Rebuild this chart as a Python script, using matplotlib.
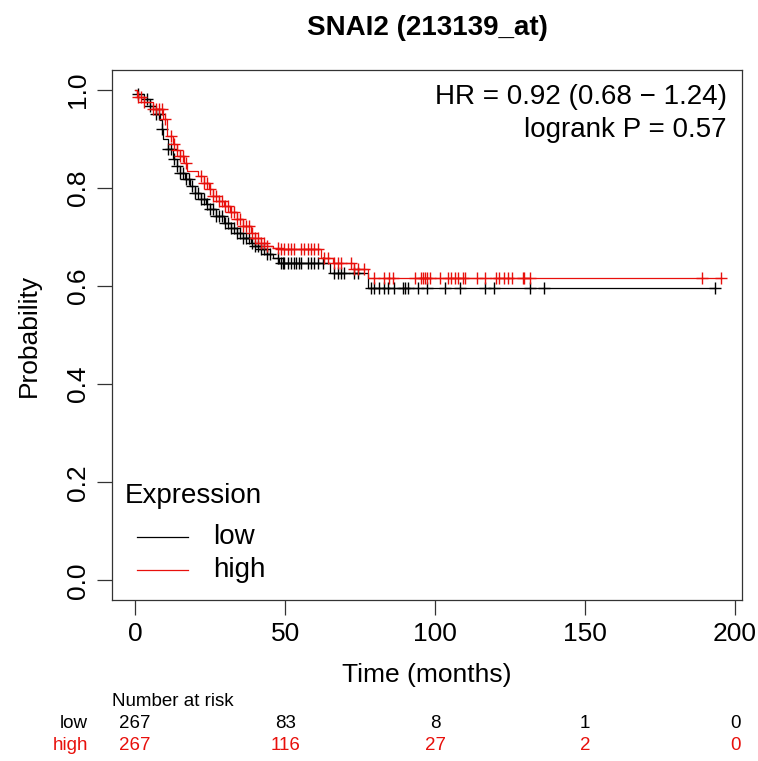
import numpy as np
import matplotlib
matplotlib.use("Agg")
import matplotlib.pyplot as plt
from matplotlib.lines import Line2D

plt.rcParams['font.family'] = ['Liberation Sans', 'DejaVu Sans']

# Kaplan-Meier steps (months, survival probability)
low_time = [0, 0.7, 3, 5, 7, 8.4, 9.0, 9.4, 11, 12.7, 14, 15, 16.5, 18.4, 20, 21.8,
            23.5, 25, 27, 29.5, 32, 34, 36, 38.5, 40, 42, 44, 46, 48, 65, 77.7]
low_surv = [1.0, 0.992, 0.98, 0.966, 0.95, 0.939, 0.92, 0.90, 0.88, 0.858, 0.845, 0.83,
            0.817, 0.803, 0.79, 0.777, 0.766, 0.757, 0.742, 0.728, 0.718, 0.708, 0.698,
            0.688, 0.682, 0.675, 0.665, 0.657, 0.647, 0.627, 0.596]
high_time = [0, 0.7, 3, 6, 9.4, 10.7, 12.7, 14, 15, 16.3, 17.4, 20.8, 23, 24.5, 26, 28,
             29.5, 31.5, 34, 36, 38.5, 40, 42, 44, 46, 48.6, 62, 66, 73, 77.7]
high_surv = [1.0, 0.985, 0.975, 0.96, 0.94, 0.905, 0.89, 0.877, 0.864, 0.85, 0.834, 0.824,
             0.81, 0.797, 0.783, 0.773, 0.763, 0.75, 0.736, 0.722, 0.708, 0.698, 0.688,
             0.682, 0.677, 0.675, 0.657, 0.647, 0.635, 0.617]

# censored observations (months)
low_censor = [1, 4, 5, 7, 8, 9, 11, 12, 13, 14, 15, 16, 17, 18, 19, 20, 21, 22, 23, 24,
              25, 26, 27, 28, 29, 30, 31, 32, 33, 34, 35, 36, 37, 38, 39, 40, 41, 42, 43,
              44, 45, 47.6, 48.6, 49.2, 49.6, 50.9, 51.9, 52.9, 53.6, 54.6, 55.3, 57.6,
              58.6, 59.6, 61, 62.6, 66.3, 67.7, 68.7, 69.7, 73, 74.4, 78.7, 79.7, 81.4,
              83, 84.4, 86.4, 89.3, 89.8, 91, 94.4, 97.2, 103.2, 108.2, 116.6, 119.6,
              131.7, 136.3, 193.3]
high_censor = [1, 2, 3, 6, 7, 8, 9, 10, 12, 13, 14, 15, 16, 17, 22, 23, 24, 25, 26, 27,
               28, 29, 30, 31, 32, 33, 34, 35, 36, 37, 38, 39, 40, 41, 42, 43, 44, 47.6,
               48.6, 49.6, 50.9, 51.9, 52.9, 55.3, 56.3, 57.6, 58.6, 59.6, 61, 63, 64.3,
               66.3, 67.7, 68.7, 72, 73, 74.4, 76.4, 79.7, 83, 84.8, 86, 93.2, 95.3, 96.1,
               96.6, 97.2, 98.3, 101.6, 104.4, 105.3, 106.6, 107.5, 109.4, 110, 113.9,
               116.7, 120.4, 121.2, 122.9, 124.3, 125.6, 129.2, 129.6, 131.6, 189.0, 195.4]

risk_times = [0, 50, 100, 150, 200]
risk_low = [267, 83, 8, 1, 0]
risk_high = [267, 116, 27, 2, 0]

title = "SNAI2 (213139_at)"
hr_text = "HR = 0.92 (0.68 \u2212 1.24)"
p_text = "logrank P = 0.57"
RED = '#e8100c'

W, H = 758, 761
fig = plt.figure(figsize=(W / 100, H / 100), dpi=100)
ax = fig.add_axes([112 / W, 1 - 600 / H, 630 / W, 530 / H])


def km_draw(t, s, cens, color):
    t = np.asarray(t, float)
    s = np.asarray(s, float)
    cens = np.asarray(cens, float)
    tt = np.append(t, cens.max())
    ss = np.append(s, s[-1])
    ax.plot(tt, ss, drawstyle='steps-post', color=color, lw=0.9)
    idx = np.searchsorted(t, cens, side='right') - 1
    ax.plot(cens, s[idx], ls='none', marker='+', ms=9, mew=1.0, color=color)


km_draw(low_time, low_surv, low_censor, 'black')
km_draw(high_time, high_surv, high_censor, RED)

ax.set_xlim(-7.7, 202.3)
ax.set_ylim(-0.04, 1.04)
ax.set_xticks([0, 50, 100, 150, 200])
ax.set_yticks([0.0, 0.2, 0.4, 0.6, 0.8, 1.0])
ax.set_yticklabels(['0.0', '0.2', '0.4', '0.6', '0.8', '1.0'], rotation=90, va='center')
ax.tick_params(length=11, width=0.9, labelsize=19, pad=5, color='#333333')
for sp in ax.spines.values():
    sp.set_linewidth(0.9)
    sp.set_color('#333333')

ax.set_xlabel("Time (months)", fontsize=19, labelpad=12)
ax.set_ylabel("Probability", fontsize=19, labelpad=18)
fig.text(0.5 * (112 + 742) / W, 1 - 28 / H, title, ha='center', va='center',
         fontsize=20, fontweight='bold')

fig.text(727 / W, 1 - 97 / H, hr_text, ha='right', va='center', fontsize=20)
fig.text(727 / W, 1 - 130 / H, p_text, ha='right', va='center', fontsize=20)

# legend drawn by hand to match the R layout
fig.text(125 / W, 1 - 496 / H, "Expression", ha='left', va='center', fontsize=20)
for ypx, lab, col in [(537, 'low', 'black'), (570, 'high', RED)]:
    fig.add_artist(Line2D([137 / W, 188 / W], [1 - ypx / H, 1 - ypx / H],
                          transform=fig.transFigure, color=col, lw=0.9))
    fig.text(213 / W, 1 - ypx / H, lab, ha='left', va='center', fontsize=20)

# number at risk table
fig.text(112 / W, 1 - 702 / H, "Number at risk", ha='left', va='center', fontsize=13.5)
fig.text(88 / W, 1 - 723 / H, "low", ha='right', va='center', fontsize=13.5)
fig.text(88 / W, 1 - 746 / H, "high", ha='right', va='center', fontsize=13.5, color=RED)
for t, a, b in zip(risk_times, risk_low, risk_high):
    xf = ax.transData.transform((t, 0))[0] / W
    fig.text(xf, 1 - 723 / H, str(a), ha='center', va='center', fontsize=13.5)
    fig.text(xf, 1 - 746 / H, str(b), ha='center', va='center', fontsize=13.5, color=RED)

fig.savefig("out.png", dpi=100)
